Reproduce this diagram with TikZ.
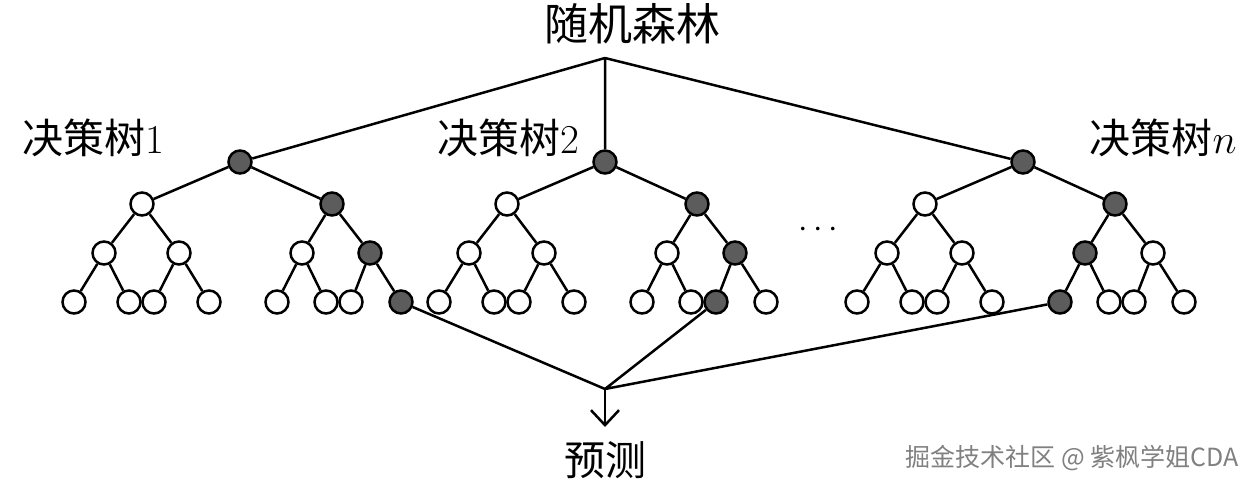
\RequirePackage{fix-cm}
\documentclass[tikz,border=0pt]{standalone}
\usepackage{fontspec}
\newfontfamily\cjk{Noto Sans CJK SC}
\usetikzlibrary{arrows.meta}
\definecolor{pathgray}{RGB}{92,92,92}
\tikzset{every picture/.style={line width=2.5pt}}
\tikzset{
  knot/.style={circle,draw,fill=white,inner sep=0pt,minimum size=23pt},
  hot/.style={knot,fill=pathgray},
  caption/.style={inner sep=0.75pt,font=\cjk\fontsize{41}{48}\selectfont}
}

\begin{document}
\begin{tikzpicture}[x=1pt,y=1pt,yscale=-1,xscale=1]
\useasboundingbox (0,0) rectangle (1257,486);

% Text Node
\node[caption,font=\cjk\fontsize{44}{50}\selectfont] (rf) at (632,24) {随机森林};
\coordinate (fork) at (605,58);
% Text Node
\node[caption] (lab1) at (93,138) {决策树$1$};
% Text Node
\node[caption] (lab2) at (508,138) {决策树$2$};
% Text Node
\node[caption] (labn) at (1163,138) {决策树$n$};
% Text Node
\node[inner sep=0pt] (dots) at (818,230) {\fontsize{34}{36}\selectfont$\cdots$};

%Shape: Tree 1
\node[hot]  (t1)    at (240,162) {};
\node[knot] (t1a)   at (142,204) {};
\node[hot]  (t1b)   at (332,204) {};
\node[knot] (t1aa)  at (104,253) {};
\node[knot] (t1ab)  at (179,253) {};
\node[knot] (t1ba)  at (302,253) {};
\node[hot]  (t1bb)  at (370,253) {};
\node[knot] (t1aaa) at (74,302) {};
\node[knot] (t1aab) at (129,302) {};
\node[knot] (t1aba) at (154,302) {};
\node[knot] (t1abb) at (209,302) {};
\node[knot] (t1baa) at (277,302) {};
\node[knot] (t1bab) at (326,302) {};
\node[knot] (t1bba) at (351,302) {};
\node[hot]  (t1bbb) at (401,302) {};

%Shape: Tree 2
\node[hot]  (t2)    at (605,162) {};
\node[knot] (t2a)   at (507,204) {};
\node[hot]  (t2b)   at (697,204) {};
\node[knot] (t2aa)  at (469,253) {};
\node[knot] (t2ab)  at (544,253) {};
\node[knot] (t2ba)  at (667,253) {};
\node[hot]  (t2bb)  at (735,253) {};
\node[knot] (t2aaa) at (439,302) {};
\node[knot] (t2aab) at (494,302) {};
\node[knot] (t2aba) at (519,302) {};
\node[knot] (t2abb) at (574,302) {};
\node[knot] (t2baa) at (642,302) {};
\node[knot] (t2bab) at (691,302) {};
\node[hot]  (t2bba) at (716,302) {};
\node[knot] (t2bbb) at (766,302) {};

%Shape: Tree n
\node[hot]  (tn)    at (1023,162) {};
\node[knot] (tna)   at (925,204) {};
\node[hot]  (tnb)   at (1115,204) {};
\node[knot] (tnaa)  at (887,253) {};
\node[knot] (tnab)  at (962,253) {};
\node[hot]  (tnba)  at (1085,253) {};
\node[knot] (tnbb)  at (1153,253) {};
\node[knot] (tnaaa) at (857,302) {};
\node[knot] (tnaab) at (912,302) {};
\node[knot] (tnaba) at (937,302) {};
\node[knot] (tnabb) at (992,302) {};
\node[hot]  (tnbaa) at (1060,302) {};
\node[knot] (tnbab) at (1109,302) {};
\node[knot] (tnbba) at (1134,302) {};
\node[knot] (tnbbb) at (1184,302) {};

% Edges of the trees
\draw (t1) -- (t1a) (t1) -- (t1b) (t1a) -- (t1aa) (t1a) -- (t1ab) (t1b) -- (t1ba) (t1b) -- (t1bb)
      (t1aa) -- (t1aaa) (t1aa) -- (t1aab) (t1ab) -- (t1aba) (t1ab) -- (t1abb)
      (t1ba) -- (t1baa) (t1ba) -- (t1bab) (t1bb) -- (t1bba) (t1bb) -- (t1bbb);
\draw (t2) -- (t2a) (t2) -- (t2b) (t2a) -- (t2aa) (t2a) -- (t2ab) (t2b) -- (t2ba) (t2b) -- (t2bb)
      (t2aa) -- (t2aaa) (t2aa) -- (t2aab) (t2ab) -- (t2aba) (t2ab) -- (t2abb)
      (t2ba) -- (t2baa) (t2ba) -- (t2bab) (t2bb) -- (t2bba) (t2bb) -- (t2bbb);
\draw (tn) -- (tna) (tn) -- (tnb) (tna) -- (tnaa) (tna) -- (tnab) (tnb) -- (tnba) (tnb) -- (tnbb)
      (tnaa) -- (tnaaa) (tnaa) -- (tnaab) (tnab) -- (tnaba) (tnab) -- (tnabb)
      (tnba) -- (tnbaa) (tnba) -- (tnbab) (tnbb) -- (tnbba) (tnbb) -- (tnbbb);

% Forest to roots
\draw (fork) -- (t1) (fork) -- (t2) (fork) -- (tn);

% Leaves to prediction
\coordinate (join) at (605,389);
\coordinate (tip) at (605,427);
\draw (t1bbb) -- (join) (t2bba) -- (join) (tnbaa) -- (join);
\draw[-{Straight Barb[length=15pt,width=28pt]}] (join) -- (tip);

% Text Node
\node[caption] (pred) at (605,460) {预测};
% Text Node
\node[inner sep=0pt,text=black!50,font=\cjk\fontsize{25}{28}\selectfont] (mark) at (1072,458) {掘金技术社区 @ 紫枫学姐CDA};

\end{tikzpicture}
\end{document}
